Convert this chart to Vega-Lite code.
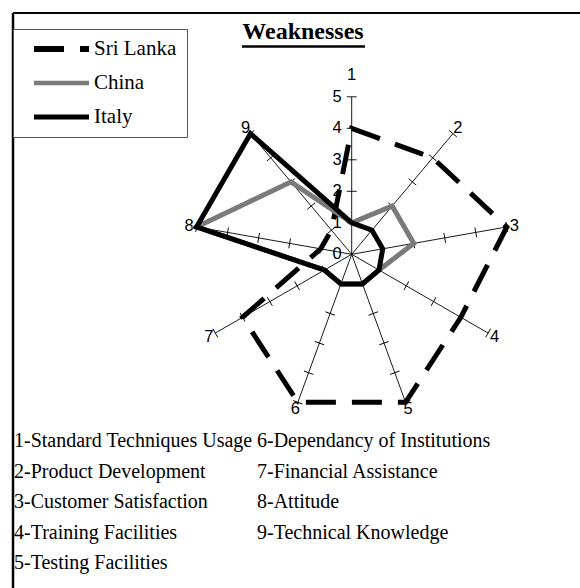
{
  "$schema": "https://vega.github.io/schema/vega-lite/v6.json",
  "width": 580,
  "height": 588,
  "padding": 0,
  "autosize": {"type": "none"},
  "background": "white",
  "config": {
    "view": {"stroke": null},
    "legend": {
      "orient": "none",
      "legendX": 13,
      "legendY": 29,
      "title": null,
      "symbolType": "stroke",
      "symbolSize": 3025,
      "clipHeight": 20,
      "rowPadding": 13,
      "padding": 10,
      "symbolOffset": 8,
      "labelOffset": 2,
      "labelFont": "Liberation Serif",
      "labelFontSize": 21,
      "labelColor": "black",
      "strokeColor": "#555555",
      "fillColor": "white",
      "labelLimit": 300
    }
  },
  "datasets": {
    "radar": [
      {"series": "Sri Lanka", "axis": 1, "value": 4},
      {"series": "Sri Lanka", "axis": 2, "value": 4},
      {"series": "Sri Lanka", "axis": 3, "value": 5},
      {"series": "Sri Lanka", "axis": 4, "value": 4},
      {"series": "Sri Lanka", "axis": 5, "value": 5},
      {"series": "Sri Lanka", "axis": 6, "value": 5},
      {"series": "Sri Lanka", "axis": 7, "value": 4},
      {"series": "Sri Lanka", "axis": 8, "value": 1},
      {"series": "Sri Lanka", "axis": 9, "value": 1},
      {"series": "China", "axis": 1, "value": 1},
      {"series": "China", "axis": 2, "value": 2},
      {"series": "China", "axis": 3, "value": 2},
      {"series": "China", "axis": 4, "value": 1},
      {"series": "China", "axis": 5, "value": 1},
      {"series": "China", "axis": 6, "value": 1},
      {"series": "China", "axis": 7, "value": 1},
      {"series": "China", "axis": 8, "value": 5},
      {"series": "China", "axis": 9, "value": 3},
      {"series": "Italy", "axis": 1, "value": 1},
      {"series": "Italy", "axis": 2, "value": 1},
      {"series": "Italy", "axis": 3, "value": 1},
      {"series": "Italy", "axis": 4, "value": 1},
      {"series": "Italy", "axis": 5, "value": 1},
      {"series": "Italy", "axis": 6, "value": 1},
      {"series": "Italy", "axis": 7, "value": 1},
      {"series": "Italy", "axis": 8, "value": 5},
      {"series": "Italy", "axis": 9, "value": 5}
    ],
    "spokes": [
      {"axis": 1, "ticks": [1, 2, 3, 4, 5]},
      {"axis": 2, "ticks": [1, 2, 3, 4, 5]},
      {"axis": 3, "ticks": [1, 2, 3, 4, 5]},
      {"axis": 4, "ticks": [1, 2, 3, 4, 5]},
      {"axis": 5, "ticks": [1, 2, 3, 4, 5]},
      {"axis": 6, "ticks": [1, 2, 3, 4, 5]},
      {"axis": 7, "ticks": [1, 2, 3, 4, 5]},
      {"axis": 8, "ticks": [1, 2, 3, 4, 5]},
      {"axis": 9, "ticks": [1, 2, 3, 4, 5]}
    ],
    "scaleLabels": [
      {"v": 0}, {"v": 1}, {"v": 2}, {"v": 3}, {"v": 4}, {"v": 5}
    ],
    "categories": [
      {"label": "1-Standard Techniques Usage", "col": 1, "row": 1},
      {"label": "2-Product Development", "col": 1, "row": 2},
      {"label": "3-Customer Satisfaction", "col": 1, "row": 3},
      {"label": "4-Training Facilities", "col": 1, "row": 4},
      {"label": "5-Testing Facilities", "col": 1, "row": 5},
      {"label": "6-Dependancy of Institutions", "col": 2, "row": 1},
      {"label": "7-Financial Assistance", "col": 2, "row": 2},
      {"label": "8-Attitude", "col": 2, "row": 3},
      {"label": "9-Technical Knowledge", "col": 2, "row": 4}
    ]
  },
  "layer": [
    {
      "data": {"values": [{}]},
      "mark": {"type": "rule", "color": "black", "strokeWidth": 2.5},
      "encoding": {
        "x": {"datum": -10.752, "type": "quantitative", "scale": {"domain": [-11.1651, 7.2476], "nice": false, "zero": false}, "axis": null},
        "y": {"datum": -10.5937, "type": "quantitative", "scale": {"domain": [-10.5937, 8.073], "nice": false, "zero": false}, "axis": null},
        "y2": {"datum": 7.66}
      }
    },
    {
      "data": {"values": [{}]},
      "mark": {"type": "rule", "color": "black", "strokeWidth": 2},
      "encoding": {
        "x": {"datum": -10.752, "type": "quantitative", "scale": {"domain": [-11.1651, 7.2476], "nice": false, "zero": false}, "axis": null},
        "x2": {"datum": 7.2476},
        "y": {"datum": 7.66, "type": "quantitative", "scale": {"domain": [-10.5937, 8.073], "nice": false, "zero": false}, "axis": null}
      }
    },
    {
      "data": {"values": [{"title": "Weaknesses"}]},
      "mark": {"type": "text", "align": "center", "baseline": "alphabetic", "font": "Liberation Serif", "fontSize": 24, "fontWeight": "bold", "color": "black"},
      "encoding": {
        "x": {"datum": -1.546, "type": "quantitative", "scale": {"domain": [-11.1651, 7.2476], "nice": false, "zero": false}, "axis": null},
        "y": {"datum": 6.85, "type": "quantitative", "scale": {"domain": [-10.5937, 8.073], "nice": false, "zero": false}, "axis": null},
        "text": {"field": "title", "type": "nominal"}
      }
    },
    {
      "data": {"values": [{}]},
      "mark": {"type": "rule", "color": "black", "strokeWidth": 2.5},
      "encoding": {
        "x": {"datum": -3.483, "type": "quantitative", "scale": {"domain": [-11.1651, 7.2476], "nice": false, "zero": false}, "axis": null},
        "x2": {"datum": 0.422},
        "y": {"datum": 6.597, "type": "quantitative", "scale": {"domain": [-10.5937, 8.073], "nice": false, "zero": false}, "axis": null}
      }
    },
    {
      "data": {"name": "spokes"},
      "transform": [
        {"calculate": "PI/2 - (datum.axis - 1) * 2 * PI / 9", "as": "a"},
        {"calculate": "5 * cos(datum.a)", "as": "ex"},
        {"calculate": "5 * sin(datum.a)", "as": "ey"}
      ],
      "mark": {"type": "rule", "color": "black", "strokeWidth": 0.9},
      "encoding": {
        "x": {"field": "ex", "type": "quantitative", "scale": {"domain": [-11.1651, 7.2476], "nice": false, "zero": false}, "axis": null},
        "y": {"field": "ey", "type": "quantitative", "scale": {"domain": [-10.5937, 8.073], "nice": false, "zero": false}, "axis": null},
        "x2": {"datum": 0},
        "y2": {"datum": 0}
      }
    },
    {
      "data": {"name": "spokes"},
      "transform": [
        {"flatten": ["ticks"]},
        {"calculate": "PI/2 - (datum.axis - 1) * 2 * PI / 9", "as": "a"},
        {"calculate": "datum.ticks * cos(datum.a)", "as": "tx"},
        {"calculate": "datum.ticks * sin(datum.a)", "as": "ty"},
        {"calculate": "(datum.axis - 1) * 40", "as": "ang"}
      ],
      "mark": {"type": "point", "shape": "M-1,0L1,0", "size": 100, "filled": false, "stroke": "black", "strokeWidth": 0.9, "opacity": 1},
      "encoding": {
        "x": {"field": "tx", "type": "quantitative", "scale": {"domain": [-11.1651, 7.2476], "nice": false, "zero": false}, "axis": null},
        "y": {"field": "ty", "type": "quantitative", "scale": {"domain": [-10.5937, 8.073], "nice": false, "zero": false}, "axis": null},
        "angle": {"field": "ang", "type": "quantitative", "scale": null}
      }
    },
    {
      "data": {"name": "scaleLabels"},
      "mark": {"type": "text", "align": "right", "baseline": "middle", "dx": -10, "font": "Liberation Sans", "fontSize": 16.5, "color": "black"},
      "encoding": {
        "x": {"datum": 0, "type": "quantitative", "scale": {"domain": [-11.1651, 7.2476], "nice": false, "zero": false}, "axis": null},
        "y": {"field": "v", "type": "quantitative", "scale": {"domain": [-10.5937, 8.073], "nice": false, "zero": false}, "axis": null},
        "text": {"field": "v", "type": "quantitative"}
      }
    },
    {
      "data": {"name": "spokes"},
      "transform": [
        {"calculate": "PI/2 - (datum.axis - 1) * 2 * PI / 9", "as": "a"},
        {"calculate": "datum.axis == 1 ? 5.68 : 5.24", "as": "r"},
        {"calculate": "datum.r * cos(datum.a)", "as": "lx"},
        {"calculate": "datum.r * sin(datum.a)", "as": "ly"}
      ],
      "mark": {"type": "text", "align": "center", "baseline": "middle", "font": "Liberation Sans", "fontSize": 16.5, "color": "black"},
      "encoding": {
        "x": {"field": "lx", "type": "quantitative", "scale": {"domain": [-11.1651, 7.2476], "nice": false, "zero": false}, "axis": null},
        "y": {"field": "ly", "type": "quantitative", "scale": {"domain": [-10.5937, 8.073], "nice": false, "zero": false}, "axis": null},
        "text": {"field": "axis", "type": "nominal"}
      }
    },
    {
      "data": {"name": "radar"},
      "transform": [
        {"calculate": "PI/2 - (datum.axis - 1) * 2 * PI / 9", "as": "a"},
        {"calculate": "datum.value * cos(datum.a)", "as": "px"},
        {"calculate": "datum.value * sin(datum.a)", "as": "py"}
      ],
      "mark": {"type": "line", "interpolate": "linear-closed", "strokeCap": "butt", "strokeWidth": 5},
      "encoding": {
        "x": {"field": "px", "type": "quantitative", "scale": {"domain": [-11.1651, 7.2476], "nice": false, "zero": false}, "axis": null},
        "y": {"field": "py", "type": "quantitative", "scale": {"domain": [-10.5937, 8.073], "nice": false, "zero": false}, "axis": null},
        "order": {"field": "axis", "type": "quantitative"},
        "color": {"field": "series", "type": "nominal", "scale": {"domain": ["Sri Lanka", "China", "Italy"], "range": ["#000000", "#7a7a7a", "#000000"]}},
        "strokeDash": {"field": "series", "type": "nominal", "scale": {"domain": ["Sri Lanka", "China", "Italy"], "range": [[30, 16], [1, 0], [1, 0]]}},
        "strokeWidth": {"field": "series", "type": "nominal", "scale": {"type": "ordinal", "domain": ["Sri Lanka", "China", "Italy"], "range": [6, 4.5, 4.8]}}
      }
    },
    {
      "data": {"name": "categories"},
      "transform": [
        {"calculate": "(14 + (datum.col - 1) * 243 - 351.7) / 31.5", "as": "bx"},
        {"calculate": "(254.3 - (441.5 + (datum.row - 1) * 30.5)) / 31.5", "as": "by"}
      ],
      "mark": {"type": "text", "align": "left", "baseline": "middle", "font": "Liberation Serif", "fontSize": 20, "color": "black"},
      "encoding": {
        "x": {"field": "bx", "type": "quantitative", "scale": {"domain": [-11.1651, 7.2476], "nice": false, "zero": false}, "axis": null},
        "y": {"field": "by", "type": "quantitative", "scale": {"domain": [-10.5937, 8.073], "nice": false, "zero": false}, "axis": null},
        "text": {"field": "label", "type": "nominal"}
      }
    }
  ]
}
